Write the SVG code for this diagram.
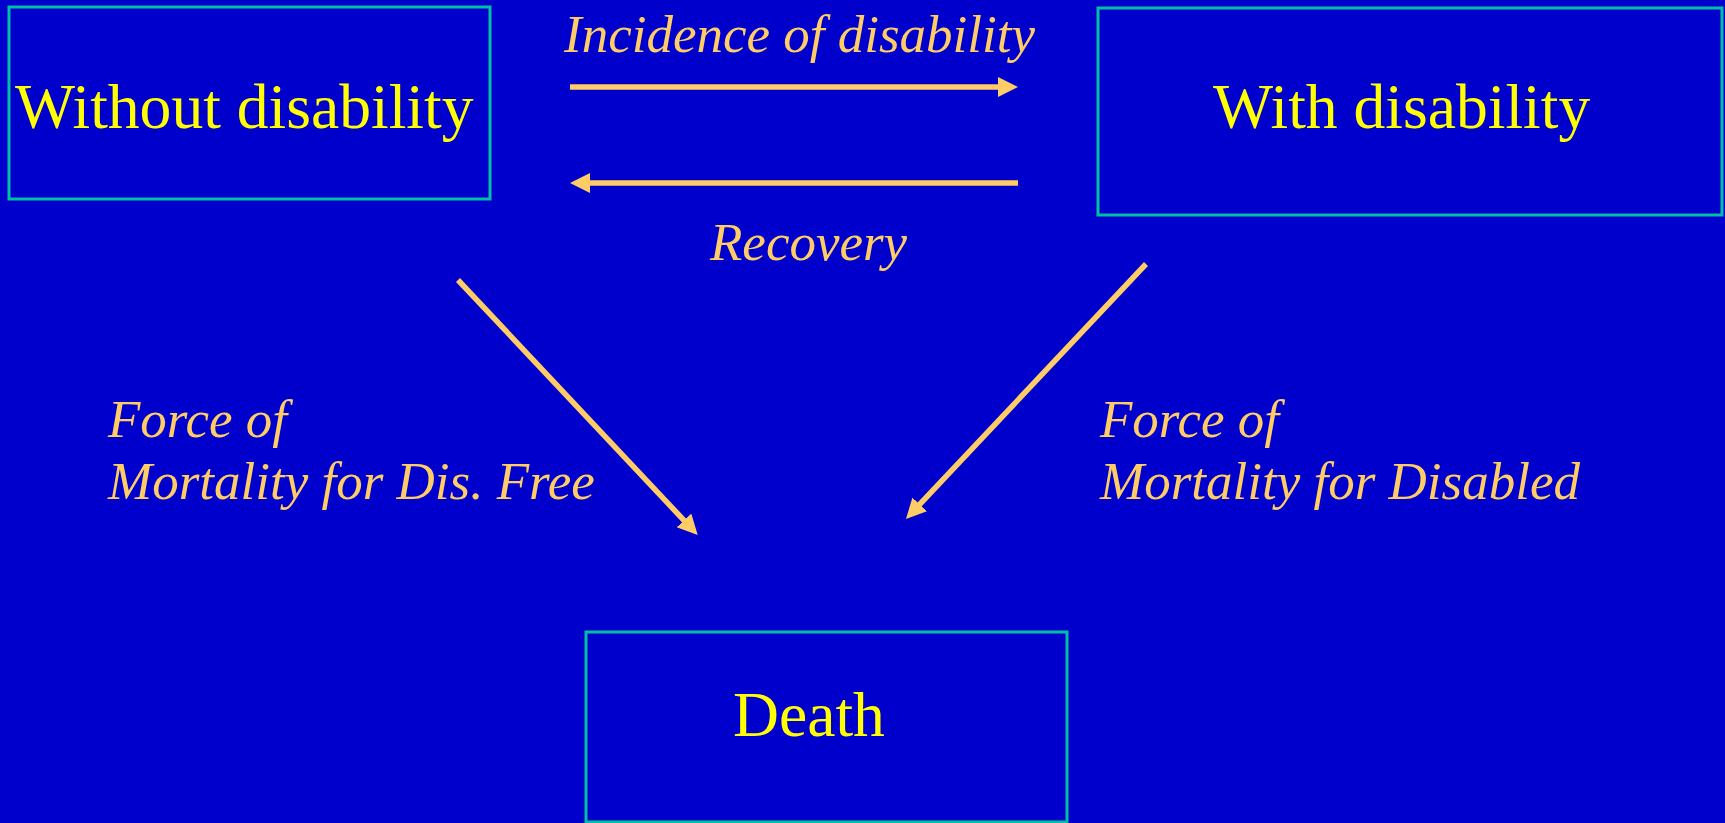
<svg xmlns="http://www.w3.org/2000/svg" width="1725" height="823" viewBox="0 0 1725 823">
  <style>
    .box { fill: #0000CC; stroke: #00BFA5; stroke-width: 3; }
    .node-text { font-family: "Liberation Serif", "Times New Roman", serif; font-size: 63.6px; fill: #FFFF00; }
    .label { font-family: "Liberation Serif", "Times New Roman", serif; font-style: italic; font-size: 53px; fill: #FFCC66; }
    .conn { stroke: #FFCC66; stroke-width: 5.5; fill: none; marker-end: url(#arrow); }
  </style>
  <defs>
    <marker id="arrow" markerUnits="userSpaceOnUse" markerWidth="22" markerHeight="22" refX="7" refY="10" orient="auto">
      <path d="M0,0 L20,10 L0,20 z" fill="#FFCC66"/>
    </marker>
  </defs>
  <rect width="1725" height="823" fill="#0000CC"/>

  <g id="node-without">
    <rect class="box" x="9" y="7" width="481" height="192"/>
    <text class="node-text" x="15" y="128">Without disability</text>
  </g>
  <g id="node-with">
    <rect class="box" x="1098" y="8" width="624" height="207"/>
    <text class="node-text" x="1213" y="128">With disability</text>
  </g>
  <g id="node-death">
    <rect class="box" x="586" y="632" width="481" height="190"/>
    <text class="node-text" x="733" y="736">Death</text>
  </g>

  <g id="connectors">
    <line class="conn" x1="570" y1="87" x2="1005" y2="87"/>
    <line class="conn" x1="1018" y1="183" x2="583" y2="183"/>
    <line class="conn" x1="458" y1="280" x2="688.8" y2="525.5"/>
    <line class="conn" x1="1146" y1="264" x2="914.9" y2="509.5"/>
    <text class="label" x="564" y="52">Incidence of disability</text>
    <text class="label" x="710" y="260">Recovery</text>
    <text class="label" x="108" y="437">Force of</text>
    <text class="label" x="108" y="499">Mortality for Dis. Free</text>
    <text class="label" x="1100" y="437">Force of</text>
    <text class="label" x="1100" y="499">Mortality for Disabled</text>
  </g>
</svg>
